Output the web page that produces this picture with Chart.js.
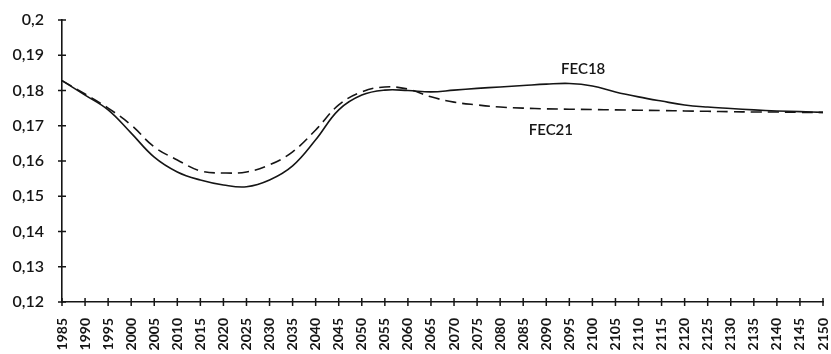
<!DOCTYPE html>
<html>
<head>
<meta charset="utf-8">
<script src="https://cdn.jsdelivr.net/npm/chart.js@4"></script>
<style>
  html, body { margin: 0; padding: 0; background: #fff; }
  #wrap { width: 831px; height: 354px; }
</style>
</head>
<body>
<div id="wrap"><canvas id="chart"></canvas></div>
<script>
const years = ['1985','1990','1995','2000','2005','2010','2015','2020','2025','2030','2035','2040',
  '2045','2050','2055','2060','2065','2070','2075','2080','2085','2090','2095','2100','2105',
  '2110','2115','2120','2125','2130','2135','2140','2145','2150'];

const fec18 = [0.1828, 0.1787, 0.1745, 0.1679, 0.1611, 0.1569, 0.1546, 0.1532, 0.1527, 0.1546,
  0.1586, 0.1660, 0.1745, 0.1787, 0.1801, 0.1800, 0.1796, 0.1801, 0.1806, 0.1810, 0.1814,
  0.1818, 0.1820, 0.1813, 0.1796, 0.1782, 0.1770, 0.1759, 0.1753, 0.1749, 0.1745, 0.1742,
  0.1740, 0.1738];

const fec21 = [0.1828, 0.1790, 0.1750, 0.1702, 0.1640, 0.1603, 0.1572, 0.1566, 0.1569, 0.1589,
  0.1626, 0.1688, 0.1759, 0.1796, 0.1810, 0.1804, 0.1782, 0.1767, 0.1759, 0.1753, 0.1750,
  0.1748, 0.1747, 0.1746, 0.1745, 0.1744, 0.1743, 0.1742, 0.1741, 0.1740, 0.1739, 0.1739,
  0.1738, 0.1738];

const yTicks = [0.12, 0.13, 0.14, 0.15, 0.16, 0.17, 0.18, 0.19, 0.2];

// line labels, placed by year and value
const labels = [
  { text: 'FEC18', year: 2098, y: 0.1861 },
  { text: 'FEC21', year: 2091, y: 0.1688 }
];

const ink = '#151515';
const font = 'Lato, "DejaVu Sans", sans-serif';

// small crosses on both axes + line labels
const extras = {
  id: 'extras',
  afterDraw(chart) {
    const c = chart.ctx;
    const xs = chart.scales.x, ys = chart.scales.y;
    c.save();
    c.strokeStyle = ink;
    c.lineWidth = 1.5;
    c.beginPath();
    xs.ticks.forEach((t, i) => {
      const px = xs.getPixelForTick(i);
      c.moveTo(px, ys.bottom - 4);
      c.lineTo(px, ys.bottom + 4);
    });
    ys.ticks.forEach((t, i) => {
      const py = ys.getPixelForTick(i);
      c.moveTo(xs.left - 4, py);
      c.lineTo(xs.left + 4, py);
    });
    c.stroke();
    c.fillStyle = ink;
    c.font = '600 15px ' + font;
    c.textAlign = 'center';
    c.textBaseline = 'middle';
    labels.forEach(l => {
      const idx = (l.year - Number(years[0])) / 5;
      c.fillText(l.text, xs.getPixelForValue(idx), ys.getPixelForValue(l.y));
    });
    c.restore();
  }
};

new Chart(document.getElementById('chart'), {
  type: 'line',
  data: {
    labels: years,
    datasets: [{
      label: 'FEC18',
      data: fec18,
      borderColor: ink,
      borderWidth: 1.6,
      pointRadius: 0,
      tension: 0.4,
      fill: false
    }, {
      label: 'FEC21',
      data: fec21,
      borderColor: ink,
      borderWidth: 1.6,
      borderDash: [11, 6],
      pointRadius: 0,
      tension: 0.4,
      fill: false
    }]
  },
  options: {
    responsive: true,
    maintainAspectRatio: false,
    animation: false,
    layout: { padding: { top: 20, right: 8, left: 0, bottom: 0 } },
    scales: {
      x: {
        offset: false,
        border: { display: true, color: ink, width: 1.6 },
        grid: { display: false },
        ticks: {
          color: ink,
          font: { family: font, size: 14, weight: 'bold' },
          minRotation: 90,
          maxRotation: 90,
          autoSkip: false,
          padding: 8
        },
        afterFit(s) {
          s.height = 52;
          s.paddingLeft = 0;
          s.paddingRight = 0;
        }
      },
      y: {
        min: 0.12,
        max: 0.2,
        border: { display: true, color: ink, width: 1.6 },
        grid: { display: false },
        afterBuildTicks(s) { s.ticks = yTicks.map(v => ({ value: v })); },
        ticks: {
          color: ink,
          font: { family: font, size: 16, weight: '600' },
          padding: 10,
          callback: v => String(Number(v.toFixed(2))).replace('.', ',')
        },
        afterFit(s) { s.width = 62; }
      }
    },
    plugins: {
      legend: { display: false },
      tooltip: { enabled: false }
    }
  },
  plugins: [extras]
});
</script>
</body>
</html>
